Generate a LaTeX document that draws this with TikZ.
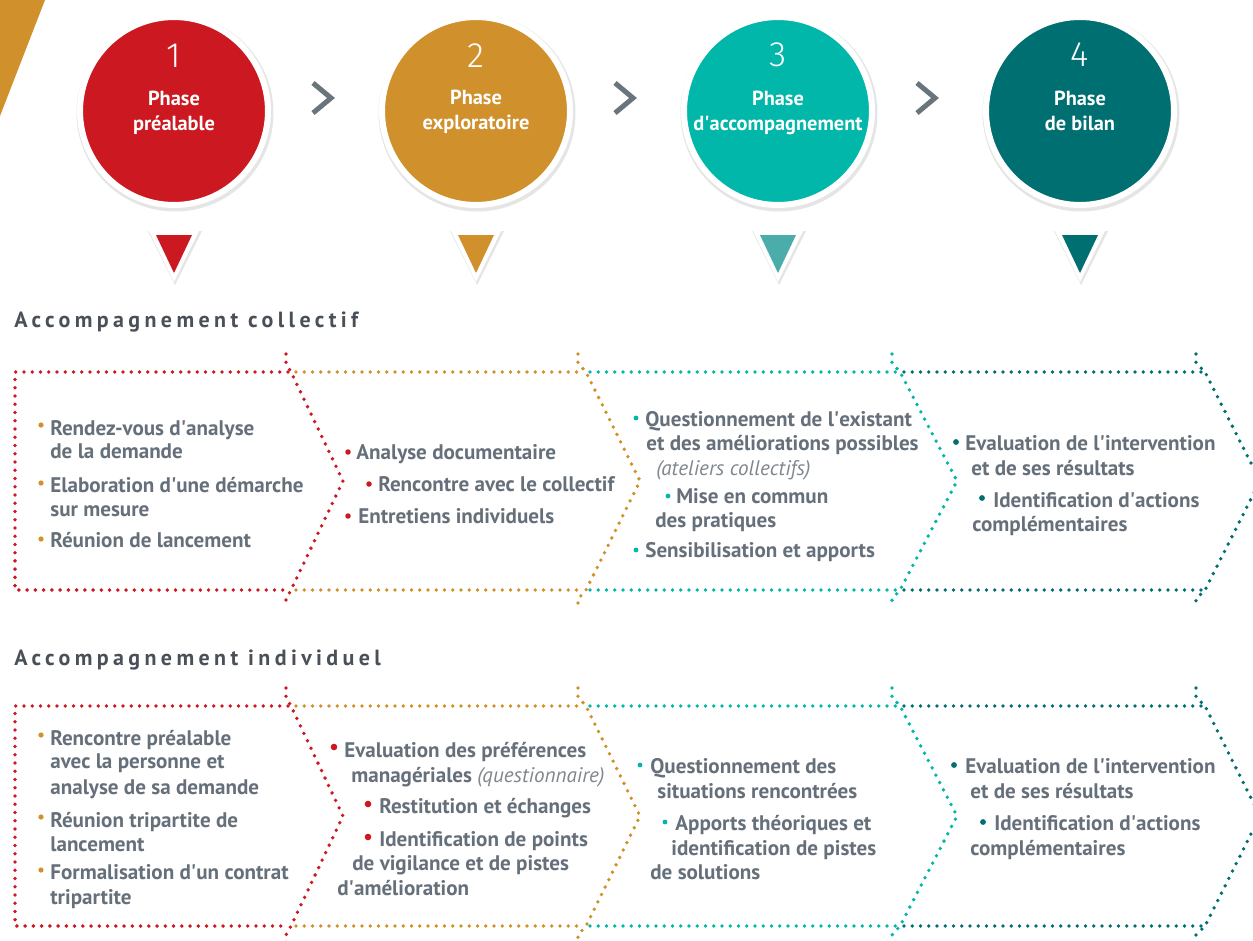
\documentclass[tikz,border=0pt]{standalone}
\usepackage{fontspec}
\setmainfont{PT Sans}
\newfontfamily\numfont{Fira Sans Light}
\newfontfamily\headfont{PT Sans}[LetterSpace=20]
\newcommand{\ap}{\textquotesingle}

\definecolor{phasered}{HTML}{CC1820}
\definecolor{phasegold}{HTML}{D0912C}
\definecolor{phaseteal}{HTML}{00B7A9}
\definecolor{phasedark}{HTML}{006F71}
\definecolor{triteal}{HTML}{4BADAA}
\definecolor{textgray}{HTML}{66707A}
\definecolor{notegray}{HTML}{80878D}
\definecolor{headgray}{HTML}{4A5057}
\definecolor{arrowgray}{HTML}{69747B}

\tikzstyle{phase} = [circle, minimum size=3.76cm, inner sep=0pt, draw=white, line width=0.12cm]
\tikzstyle{phasenum} = [anchor=base, inner sep=0pt, text=white, font=\numfont\fontsize{20}{22}\selectfont]
\tikzstyle{phaselabel} = [anchor=base, inner sep=0pt, text=white, font=\bfseries\fontsize{11.6}{13}\selectfont]
\tikzstyle{rowtitle} = [anchor=base west, inner sep=0pt, text=headgray, font=\headfont\bfseries\fontsize{12.5}{14}\selectfont]
\tikzstyle{item} = [anchor=base west, inner sep=0pt, text=textgray, font=\bfseries\fontsize{12}{14}\selectfont]
\tikzstyle{note} = [anchor=base west, inner sep=0pt, text=notegray, font=\itshape\fontsize{12}{14}\selectfont]
\tikzstyle{dots} = [line width=0.076cm, line cap=round, dash pattern=on 0pt off 0.165cm]
\tikzstyle{nextarrow} = [arrowgray, line width=0.1cm, line join=miter]

\begin{document}
\begin{tikzpicture}[x=0.02cm, y=-0.02cm]
    \clip (0,0) rectangle (1253,940);
    \fill[white] (0,0) rectangle (1253,940);

    % corner
    \fill[phasegold] (0,0) -- (45,0) -- (0,116) -- cycle;

    % phases
    \foreach \cx in {174,476,778,1080} {
        \fill[black!10] (\cx+1,113) circle[radius=1.97cm];
        \fill[black!10] (\cx-26,231) -- (\cx+28,231) -- (\cx+1,285) -- cycle;
        \fill[white] (\cx-26,229) -- (\cx+26,229) -- (\cx,282) -- cycle;
    }
    \node (p1) [phase, fill=phasered] at (174,111) {};
    \node (p2) [phase, fill=phasegold] at (476,111) {};
    \node (p3) [phase, fill=phaseteal] at (778,111) {};
    \node (p4) [phase, fill=phasedark] at (1080,111) {};

    \node (n1) [phasenum] at (174,67) {1};
    \node (n2) [phasenum] at (476,67) {2};
    \node (n3) [phasenum] at (778,66) {3};
    \node (n4) [phasenum] at (1080,66) {4};

    \node (a1) [phaselabel] at (174,105) {Phase};
    \node (b1) [phaselabel] at (174,130) {préalable};
    \node (a2) [phaselabel] at (476,104) {Phase};
    \node (b2) [phaselabel] at (476,129) {exploratoire};
    \node (a3) [phaselabel] at (778,105) {Phase};
    \node (b3) [phaselabel] at (778,130) {d\ap accompagnement};
    \node (a4) [phaselabel] at (1080,105) {Phase};
    \node (b4) [phaselabel] at (1080,130) {de bilan};

    \foreach \dx in {0,302,604}
        \draw[nextarrow] (313+\dx,83) -- (331+\dx,98) -- (313+\dx,113);

    \fill[phasered] (156,235) -- (192,235) -- (174,273) -- cycle;
    \fill[phasegold] (458,235) -- (494,235) -- (476,273) -- cycle;
    \fill[triteal] (760,235) -- (796,235) -- (778,273) -- cycle;
    \fill[phasedark] (1062,235) -- (1098,235) -- (1080,273) -- cycle;

    % chevron rows
    \foreach \T/\M/\B in {372/481/590, 706/816/926} {
        \draw[dots, phasered] (288,\T) -- (15,\T) -- (15,\B) -- (288,\B);
        \draw[dots, phasered] (286,\T-18) -- (286,\T-9) -- (291,\T) -- (343,\M) -- (291,\B) -- (286,\B+9) -- (286,\B+18);
        \draw[dots, phasegold] (296,\T) -- (583,\T);
        \draw[dots, phasegold] (296,\B) -- (583,\B);
        \draw[dots, phasegold] (578,\T-18) -- (578,\T-9) -- (586,\T) -- (640,\M) -- (586,\B) -- (578,\B+9) -- (578,\B+18);
        \draw[dots, phaseteal] (590,\T) -- (897,\T);
        \draw[dots, phaseteal] (590,\B) -- (897,\B);
        \draw[dots, phaseteal] (892,\T-18) -- (892,\T-9) -- (900,\T) -- (957,\M) -- (900,\B) -- (892,\B+9) -- (892,\B+18);
        \draw[dots, phasedark] (904,\T) -- (1202,\T);
        \draw[dots, phasedark] (904,\B) -- (1202,\B);
        \draw[dots, phasedark] (1196,\T-18) -- (1196,\T-9) -- (1205,\T) -- (1260,\M) -- (1205,\B) -- (1196,\B+9) -- (1196,\B+18);
    }

    \node (hcol) [rowtitle] at (14,327) {Accompagnement collectif};
    \node (hind) [rowtitle] at (14,665) {Accompagnement individuel};

    % collectif
    \foreach \y in {425,483,539} \fill[phasegold] (41,\y) circle[radius=0.052cm];
    \node (c1a) [item] at (50,435) {Rendez-vous d\ap analyse};
    \node (c1b) [item] at (50,458) {de la demande};
    \node (c1c) [item] at (50,492) {Elaboration d\ap une démarche};
    \node (c1d) [item] at (50,516) {sur mesure};
    \node (c1e) [item] at (50,547) {Réunion de lancement};

    \fill[phasered] (348,452) circle[radius=0.055cm];
    \fill[phasered] (369,484) circle[radius=0.055cm];
    \fill[phasered] (348,516) circle[radius=0.055cm];
    \node (c2a) [item] at (356,459) {Analyse documentaire};
    \node (c2b) [item] at (378,491) {Rencontre avec le collectif};
    \node (c2c) [item] at (358,523) {Entretiens individuels};

    \fill[phaseteal] (636,418) circle[radius=0.048cm];
    \fill[phaseteal] (668,496) circle[radius=0.048cm];
    \fill[phaseteal] (636,550) circle[radius=0.048cm];
    \node (c3a) [item] at (645,426) {Questionnement de l\ap existant};
    \node (c3b) [item] at (646,450) {et des améliorations possibles};
    \node (c3c) [note] at (656,475) {(ateliers collectifs)};
    \node (c3d) [item] at (676,503) {Mise en commun};
    \node (c3e) [item] at (655,527) {des pratiques};
    \node (c3f) [item] at (645,557) {Sensibilisation et apports};

    \fill[phasedark] (956,442) circle[radius=0.058cm];
    \fill[phasedark] (982,498) circle[radius=0.058cm];
    \node (c4a) [item] at (965,450) {Evaluation de l\ap intervention};
    \node (c4b) [item] at (971,475) {et de ses résultats};
    \node (c4c) [item] at (993,507) {Identification d\ap actions};
    \node (c4d) [item] at (972,531) {complémentaires};

    % individuel
    \foreach \y in {735,817,870} \fill[phasegold] (41,\y) circle[radius=0.052cm];
    \node (i1a) [item] at (50,745) {Rencontre préalable};
    \node (i1b) [item] at (50,768) {avec la personne et};
    \node (i1c) [item] at (50,794) {analyse de sa demande};
    \node (i1d) [item] at (50,827) {Réunion tripartite de};
    \node (i1e) [item] at (50,851) {lancement};
    \node (i1f) [item] at (50,879) {Formalisation d\ap un contrat};
    \node (i1g) [item] at (50,904) {tripartite};

    \fill[phasered] (334,747) circle[radius=0.066cm];
    \fill[phasered] (368,804) circle[radius=0.066cm];
    \fill[phasered] (368,837) circle[radius=0.066cm];
    \node (i2a) [item] at (344,757) {Evaluation des préférences};
    \node (i2b) [item] at (351,782) {managériales {\mdseries\itshape\color{notegray}(questionnaire)}};
    \node (i2c) [item] at (379,813) {Restitution et échanges};
    \node (i2d) [item] at (379,846) {Identification de points};
    \node (i2e) [item] at (352,870) {de vigilance et de pistes};
    \node (i2f) [item] at (337,895) {d\ap amélioration};

    \fill[phaseteal] (640,765) circle[radius=0.048cm];
    \fill[phaseteal] (665,822) circle[radius=0.048cm];
    \node (i3a) [item] at (650,773) {Questionnement des};
    \node (i3b) [item] at (657,798) {situations rencontrées};
    \node (i3c) [item] at (675,830) {Apports théoriques et};
    \node (i3d) [item] at (671,855) {identification de pistes};
    \node (i3e) [item] at (650,879) {de solutions};

    \fill[phasedark] (954,765) circle[radius=0.058cm];
    \fill[phasedark] (983,822) circle[radius=0.058cm];
    \node (i4a) [item] at (965,773) {Evaluation de l\ap intervention};
    \node (i4b) [item] at (970,798) {et de ses résultats};
    \node (i4c) [item] at (994,830) {Identification d\ap actions};
    \node (i4d) [item] at (970,855) {complémentaires};
\end{tikzpicture}
\end{document}
